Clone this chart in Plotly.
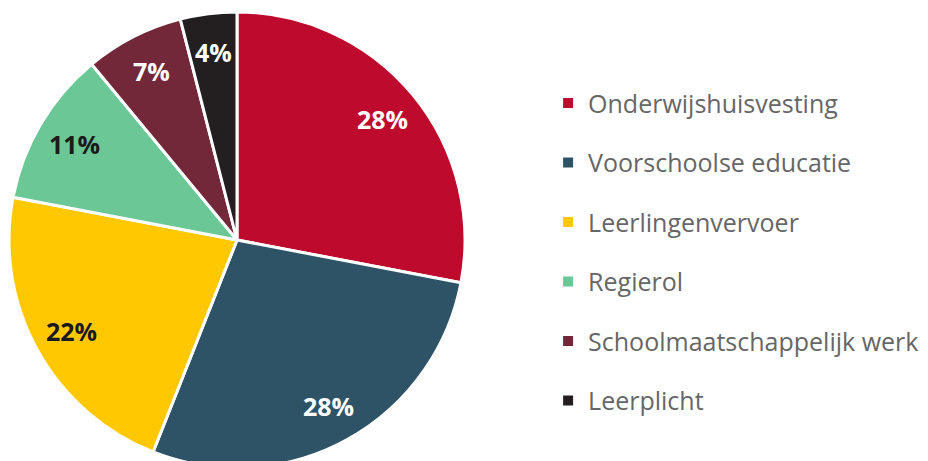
"""Pie chart: verdeling budget onderwijs per taak."""

import numpy as np
import plotly.graph_objects as go

# data
labels = [
    "Onderwijshuisvesting",
    "Voorschoolse educatie",
    "Leerlingenvervoer",
    "Regierol",
    "Schoolmaatschappelijk werk",
    "Leerplicht",
]
values = [28, 28, 22, 11, 7, 4]
colors = ["#BE0A2D", "#2E5366", "#FFC800", "#6CC796", "#722839", "#231F20"]
text_colors = ["white", "white", "#1a1a1a", "#1a1a1a", "white", "white"]

W, H = 928, 461
# pie placement (pixels, figure coords)
CX, CY, R = 229, 229, 228  # CY measured from the bottom
LABEL_R = 0.83

fig = go.Figure()

fig.add_trace(
    go.Pie(
        labels=labels,
        values=values,
        sort=False,
        direction="clockwise",
        rotation=0,
        marker=dict(colors=colors, line=dict(color="white", width=3)),
        textinfo="none",
        domain=dict(x=[(CX - R) / W, (CX + R) / W], y=[(CY - R) / H, (CY + R) / H]),
        showlegend=False,
        hoverinfo="label+percent",
    )
)

# percentage labels, placed out along each slice's bisector
total = float(sum(values))
cum = np.cumsum([0] + values[:-1])
for v, c0, tc in zip(values, cum, text_colors):
    theta = 2 * np.pi * (c0 + v / 2) / total
    fig.add_annotation(
        x=(CX + LABEL_R * R * np.sin(theta)) / W,
        y=(CY + LABEL_R * R * np.cos(theta)) / H,
        xref="paper",
        yref="paper",
        xanchor="center",
        yanchor="middle",
        text=f"{round(100 * v / total)}%",
        showarrow=False,
        font=dict(family="Open Sans", size=25, color=tc, weight="bold"),
    )

# legend entries with square markers
for name, col in zip(labels, colors):
    fig.add_trace(
        go.Scatter(
            x=[None],
            y=[None],
            mode="markers",
            name=name,
            legendgroup=name,
            marker=dict(symbol="square", size=10, color=col),
            hoverinfo="skip",
        )
    )

fig.update_layout(
    width=W,
    height=H,
    margin=dict(l=0, r=0, t=0, b=0),
    paper_bgcolor="white",
    plot_bgcolor="white",
    xaxis=dict(visible=False),
    yaxis=dict(visible=False),
    legend=dict(
        x=0.582,
        y=0.471,
        xanchor="left",
        yanchor="middle",
        font=dict(family="Open Sans", size=25, color="#666666"),
        tracegroupgap=24,
        bgcolor="rgba(0,0,0,0)",
    ),
)

fig.write_html("out.html")
